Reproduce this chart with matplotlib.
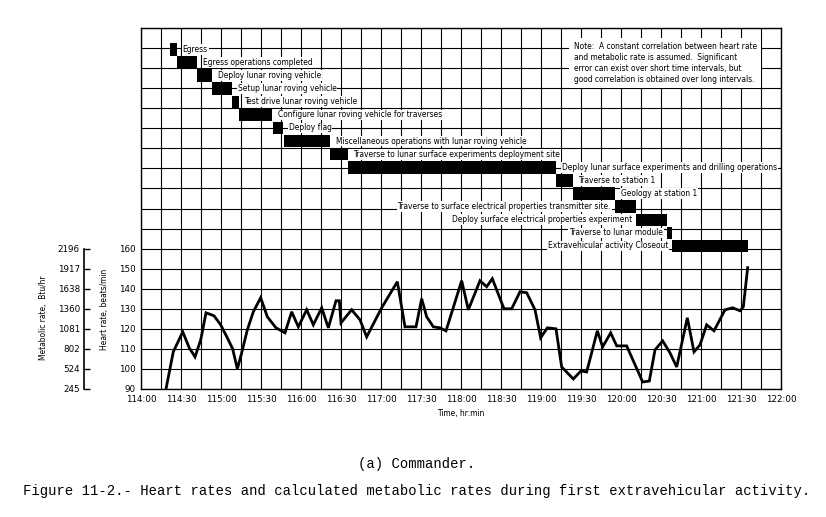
import matplotlib
matplotlib.use('Agg')
import matplotlib.pyplot as plt
from matplotlib import font_manager

# heart rate, commander, minutes after 114:00 GET
hr_minutes = [18.75, 24.2, 31.3, 36.2, 40.5, 44.8, 48.75, 54.75, 59.75, 64.75,
              68.75, 72.25, 75.5, 79.75, 84.25, 89.75, 94.75, 101.25, 108, 113,
              118, 124.25, 129.25, 135.5, 140.5, 146.25, 148.75, 150, 158, 164.25,
              169.25, 180.5, 192.25, 198, 206.25, 210.5, 214.25, 219.25, 224.25, 228.75,
              240.5, 245.5, 254.25, 259.25, 263.5, 272.25, 278, 284.25, 289.25, 295.5,
              299.75, 304.75, 311.25, 315.5, 324.25, 330, 334.25, 342.25, 346.25, 352.25,
              356.75, 364.25, 376.25, 381.25, 385.5, 391.25, 396.75, 401.75, 409.75, 414.75,
              419.25, 424.25, 429.75, 438, 443.75, 449.25, 451.75, 455]
hr_bpm = [90, 108.5, 118.5, 110.5, 106, 114.5, 128, 126.5, 122, 115.5,
          110, 100, 108, 119.5, 128.5, 135.5, 126, 120.5, 118, 128.5,
          121, 129.5, 122, 130.5, 120.5, 134, 134, 123, 129.5, 124.5,
          116, 130.5, 143.5, 121, 121, 135, 126, 121, 120.5, 119,
          144, 129.5, 144, 141, 145, 130, 130, 138.5, 138, 129.5,
          115.5, 120.5, 120, 101, 95, 99, 98.5, 119, 111, 118,
          111.5, 111.5, 93.5, 94, 109.5, 114, 108, 101, 125.5, 108.5,
          112, 122, 119, 129.5, 130.5, 129, 131, 150.5]

activities = [
    "Egress",
    "Egress operations completed",
    "Deploy lunar roving vehicle",
    "Setup lunar roving vehicle",
    "Test drive lunar roving vehicle",
    "Configure lunar roving vehicle for traverses",
    "Deploy flag",
    "Miscellaneous operations with lunar roving vehicle",
    "Traverse to lunar surface experiments deployment site",
    "Deploy lunar surface experiments and drilling operations",
    "Traverse to station 1",
    "Geology at station 1",
    "Traverse to surface electrical properties transmitter site.",
    "Deploy surface electrical properties experiment",
    "Traverse to lunar module",
    "Extravehicular activity Closeout",
]
act_start = [21.75, 27, 42, 53.25, 68.25, 73.5, 99, 107.25, 141.75, 155.25,
             311.25, 324, 355.5, 371.25, 394.5, 398.25]
act_end = [27, 42, 53.25, 68.25, 73.5, 98.25, 106.5, 141.75, 155.25, 311.25,
           324, 355.5, 371.25, 394.5, 398.25, 455.25]
label_left = [False] * 12 + [True] * 4

hr_ticks = [90, 100, 110, 120, 130, 140, 150, 160]
metabolic_labels = ['245', '524', '802', '1081', '1360', '1638', '1917', '2196']
time_labels = ['114:00', '114:30', '115:00', '115:30', '116:00', '116:30',
               '117:00', '117:30', '118:00', '118:30', '119:00', '119:30',
               '120:00', '120:30', '121:00', '121:30', '122:00']

note = ("Note:  A constant correlation between heart rate\n"
        "and metabolic rate is assumed.  Significant\n"
        "error can exist over short time intervals, but\n"
        "good correlation is obtained over long intervals.")

# look for a narrow face to get the condensed typewriter look of the original
narrow = None
for f in font_manager.fontManager.ttflist:
    st = f.stretch
    is_cond = (st in ('condensed', 'semi-condensed', 'extra-condensed')
               or (isinstance(st, int) and st < 500)
               or 'Narrow' in f.name or 'Condensed' in f.name)
    if is_cond and f.style == 'normal' and f.weight in (400, 'normal', 'regular'):
        narrow = f.fname
        break
if narrow:
    lab_fp = font_manager.FontProperties(fname=narrow, size=6.0)
else:
    lab_fp = font_manager.FontProperties(family='DejaVu Sans', size=5.3)

plt.rcParams['font.family'] = ['DejaVu Sans']

fig = plt.figure(figsize=(8.26, 5.17), dpi=100)
ax = fig.add_axes([141 / 826, 1 - 389 / 517, 640 / 826, 361 / 517])

ax.set_xlim(0, 480)
ax.set_ylim(90, 270)
ax.set_xticks(range(0, 481, 30))
ax.set_xticks(range(15, 480, 30), minor=True)
ax.set_xticklabels(time_labels, fontsize=6.3)
ax.set_yticks(range(90, 271, 10))
ax.set_yticklabels([str(v) if v <= 160 else '' for v in range(90, 271, 10)], fontsize=6.3)
ax.tick_params(which='both', length=0)
ax.tick_params(axis='x', pad=4)
ax.tick_params(axis='y', pad=4)
ax.grid(True, which='both', color='black', linewidth=0.8)
ax.set_axisbelow(True)
for s in ax.spines.values():
    s.set_linewidth(1.0)

ax.plot(hr_minutes, hr_bpm, color='black', linewidth=2.0, zorder=3,
        solid_joinstyle='miter')

# activity timeline in the upper part of the grid
row_top = 259.35
row_step = 6.535
bar_h = 6.2
for i, name in enumerate(activities):
    yc = row_top - i * row_step
    ax.barh(yc, act_end[i] - act_start[i], left=act_start[i], height=bar_h,
            color='black', zorder=3)
    if label_left[i]:
        ax.annotate(name, xy=(act_start[i], yc), xytext=(-3, 0),
                    textcoords='offset points', ha='right', va='center',
                    fontproperties=lab_fp, zorder=4,
                    bbox=dict(fc='white', ec='none', pad=0.6))
    else:
        ax.annotate(name, xy=(act_end[i], yc), xytext=(4, 0),
                    textcoords='offset points', ha='left', va='center',
                    fontproperties=lab_fp, zorder=4,
                    bbox=dict(fc='white', ec='none', pad=0.6))

ax.text(0.676, 0.962, note, transform=ax.transAxes, ha='left', va='top',
        fontproperties=lab_fp, linespacing=1.3, zorder=4,
        bbox=dict(fc='white', ec='none', pad=3))

ax.set_xlabel('Time, hr:min', fontproperties=lab_fp, labelpad=4)
ax.set_ylabel('Heart rate, beats/min', fontproperties=lab_fp)
ax.yaxis.set_label_coords(-0.05, 0.22)

# metabolic rate scale on the far left
ax2 = ax.twinx()
ax2.set_ylim(90, 270)
for k in ['top', 'right', 'bottom']:
    ax2.spines[k].set_visible(False)
ax2.spines['left'].set_visible(True)
ax2.spines['left'].set_position(('outward', 41))
ax2.spines['left'].set_bounds(90, 160)
ax2.spines['left'].set_linewidth(1.2)
ax2.yaxis.set_ticks_position('left')
ax2.yaxis.set_label_position('left')
ax2.set_yticks(hr_ticks)
ax2.set_yticklabels(metabolic_labels, fontsize=6.3)
ax2.tick_params(axis='y', direction='in', length=4.5, width=1.0, pad=3)
ax2.set_ylabel('Metabolic rate,  Btu/hr', fontproperties=lab_fp)
ax2.yaxis.set_label_coords(-0.145, 0.197)

fig.text(0.504, 1 - 464 / 517, '(a) Commander.', ha='center', va='center',
         fontsize=10, family='Liberation Mono')
fig.text(0.504, 1 - 491 / 517,
         'Figure 11-2.- Heart rates and calculated metabolic rates during first extravehicular activity.',
         ha='center', va='center', fontsize=10, family='Liberation Mono')

fig.savefig('out.png', dpi=100)
